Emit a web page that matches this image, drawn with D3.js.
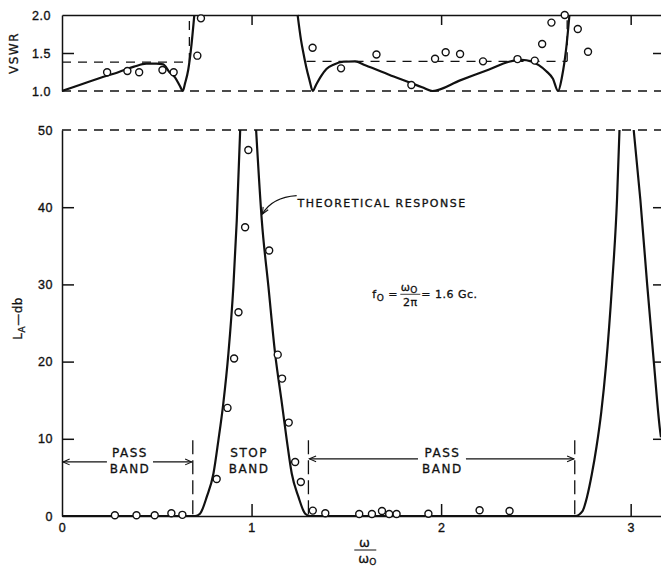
<!DOCTYPE html>
<html>
<head>
<meta charset="utf-8">
<script src="https://cdn.jsdelivr.net/npm/d3@7"></script>
<style>
body { margin: 0; background: #fff; }
svg { display: block; font-family: "DejaVu Sans", sans-serif; }
.axis path, .axis line { stroke: #111; stroke-width: 1.5; }
.axis text { font-size: 12.5px; fill: #111; letter-spacing: 0.5px; stroke: #111; stroke-width: 0.35; }
.theory { fill: none; stroke: #111; stroke-width: 2.2; }
.dash { fill: none; stroke: #111; stroke-width: 1.3; stroke-dasharray: 9,7; }
.meas { fill: #fff; stroke: #111; stroke-width: 1.4; }
.lbl { font-size: 12px; fill: #111; letter-spacing: 1.5px; stroke: #111; stroke-width: 0.3; }
.arrow { fill: none; stroke: #111; stroke-width: 1.3; }
</style>
</head>
<body>
<script>
//tick values
var freqTicks = [0, 1, 2, 3];
var lossTicks = [0, 10, 20, 30, 40, 50];
var vswrTicks = [1.0, 1.5, 2.0];

//theoretical attenuation, [w/w0, L_A db], one array per visible branch
var lossTheory = [
    [[0,0],[0.702,0],[0.728,0.3],[0.764,2.5],[0.799,5.5],[0.825,9.8],[0.851,14.6],[0.878,21.1],[0.904,29.7],[0.922,38.3],[0.94,50]],
    [[1.024,50],[1.054,38.3],[1.089,29.7],[1.124,21.1],[1.16,14.6],[1.186,9.8],[1.212,5.5],[1.247,2.5],[1.283,0.3],[1.309,0],
     [2.708,0],[2.745,0.6],[2.77,2.5],[2.795,5.4],[2.82,9],[2.845,13.5],[2.87,19.5],[2.902,30],[2.928,41],[2.941,50]],
    [[3.016,50],[3.051,41],[3.087,30],[3.122,20],[3.157,10.7],[3.16,10.2]]
];

//measured attenuation
var lossMeasured = [
    [0.279,0.1],[0.393,0.1],[0.489,0.1],[0.577,0.35],[0.635,0.15],
    [0.816,4.8],[0.873,14],[0.908,20.4],[0.931,26.4],[0.966,37.4],[0.983,47.4],
    [1.093,34.4],[1.138,20.9],[1.161,17.8],[1.196,12.1],[1.23,7.0],[1.26,4.4],[1.323,0.7],[1.389,0.35],
    [1.568,0.25],[1.635,0.25],[1.688,0.65],[1.726,0.25],[1.765,0.25],[1.933,0.3],[2.203,0.75],[2.361,0.65]
];

//theoretical VSWR
var vswrTheory = [
    [[0,1.0],[0.1,1.085],[0.2,1.17],[0.3,1.25],[0.38,1.32],[0.445,1.36],[0.498,1.36],[0.534,1.35],[0.566,1.25],[0.596,1.18],[0.622,1.066],[0.637,1.0],
     [0.649,1.1],[0.666,1.28],[0.684,1.63],[0.698,2.0]],
    [[1.243,2.0],[1.261,1.67],[1.275,1.48],[1.288,1.32],[1.305,1.15],[1.323,1.0],[1.34,1.08],[1.365,1.19],[1.395,1.29],[1.435,1.35],[1.485,1.385],
     [1.545,1.39],[1.6,1.34],[1.75,1.19],[1.9,1.05],[1.954,1.0],[2.1,1.14],[2.25,1.28],[2.358,1.385],[2.425,1.41],[2.475,1.39],[2.515,1.34],
     [2.555,1.26],[2.59,1.16],[2.617,1.0],[2.638,1.19],[2.659,1.54],[2.677,2.0]]
];

//measured VSWR
var vswrMeasured = [
    [0.238,1.246],[0.345,1.263],[0.407,1.246],[0.53,1.276],[0.589,1.246],[0.714,1.465],[0.733,1.956],
    [1.322,1.57],[1.472,1.298],[1.659,1.48],[1.843,1.079],[1.968,1.425],[2.024,1.509],[2.1,1.487],
    [2.221,1.39],[2.403,1.42],[2.494,1.4],[2.533,1.618],[2.582,1.9],[2.652,2.0],[2.721,1.816],[2.775,1.517]
];

//band edges (w/w0) and VSWR spec level
var bandEdges = [0.69, 1.3, 2.705];
var vswrLimit = [[0, 0.672, 1.38], [1.29, 2.665, 1.39]];

var width = 661, height = 567;

var svg = d3.select("body").append("svg")
    .attr("width", width)
    .attr("height", height);

var defs = svg.append("defs");
defs.append("marker")
    .attr("id", "head")
    .attr("viewBox", "-10 -6 12 12")
    .attr("markerWidth", 10).attr("markerHeight", 10)
    .attr("markerUnits", "userSpaceOnUse")
    .attr("orient", "auto-start-reverse")
    .append("path")
    .attr("d", "M-8,-3.5L0,0L-8,3.5")
    .attr("fill", "none").attr("stroke", "#111").attr("stroke-width", 1.3);

//scales
var x = d3.scaleLinear().domain([0, 3.16]).range([62, 661]);
var yL = d3.scaleLinear().domain([0, 50]).range([516, 130]);
var yV = d3.scaleLinear().domain([1, 2]).range([91, 15]);

defs.append("clipPath").attr("id", "clipL").append("rect")
    .attr("x", x(0)).attr("y", yL(50) - 2).attr("width", width - x(0)).attr("height", yL(0) - yL(50) + 4);
defs.append("clipPath").attr("id", "clipV").append("rect")
    .attr("x", x(0)).attr("y", yV(2) - 2).attr("width", width - x(0)).attr("height", yV(1) - yV(2) + 4);

// ---------- top panel: VSWR ----------
var topPanel = svg.append("g");

topPanel.append("g").attr("class", "axis")
    .attr("transform", "translate(" + x(0) + ",0)")
    .call(d3.axisLeft(yV).tickValues(vswrTicks).tickFormat(d3.format(".1f"))
        .tickSizeInner(-12).tickSizeOuter(0).tickPadding(11))
    .call(function(g) { g.selectAll(".tick line").filter(function(d) { return d != 1.5; }).remove(); });

topPanel.append("g").attr("class", "axis")
    .attr("transform", "translate(0," + yV(2) + ")")
    .call(d3.axisTop(x).tickValues(freqTicks.slice(1)).tickFormat("")
        .tickSizeInner(-10).tickSizeOuter(0));

//right side tick
topPanel.append("g").attr("class", "axis")
    .attr("transform", "translate(663,0)")
    .call(d3.axisRight(yV).tickValues([1.5]).tickFormat("").tickSizeInner(-10).tickSizeOuter(0));

topPanel.append("line").attr("class", "dash")
    .attr("x1", x(0)).attr("x2", width).attr("y1", yV(1)).attr("y2", yV(1));

vswrLimit.forEach(function(d) {
    topPanel.append("line").attr("class", "dash")
        .attr("x1", x(d[0])).attr("x2", x(d[1])).attr("y1", yV(d[2])).attr("y2", yV(d[2]));
    topPanel.append("line").attr("class", "dash")
        .attr("x1", x(d[1])).attr("x2", x(d[1])).attr("y1", yV(d[2])).attr("y2", yV(2));
});

var vLine = d3.line()
    .x(function(d) { return x(d[0]); })
    .y(function(d) { return yV(d[1]); })
    .curve(d3.curveMonotoneX);

topPanel.append("g").attr("clip-path", "url(#clipV)")
    .selectAll("path").data(vswrTheory).enter()
    .append("path").attr("class", "theory").attr("d", vLine);

topPanel.selectAll(".vm").data(vswrMeasured).enter()
    .append("circle").attr("class", "meas")
    .attr("cx", function(d) { return x(d[0]); })
    .attr("cy", function(d) { return yV(d[1]); })
    .attr("r", 3.5);

topPanel.append("text")
    .attr("transform", "translate(18," + yV(1.5) + ") rotate(-90)")
    .attr("text-anchor", "middle")
    .attr("class", "lbl").style("font-size", "12px")
    .text("VSWR");

// ---------- bottom panel: attenuation ----------
var bot = svg.append("g");

bot.append("g").attr("class", "axis")
    .attr("transform", "translate(" + x(0) + ",0)")
    .call(d3.axisLeft(yL).tickValues(lossTicks).tickFormat(d3.format("d"))
        .tickSizeInner(-12).tickSizeOuter(0).tickPadding(9))
    .call(function(g) { g.selectAll(".tick line").filter(function(d) { return d == 0 || d == 50; }).remove(); });

bot.append("g").attr("class", "axis")
    .attr("transform", "translate(0," + yL(0) + ")")
    .call(d3.axisBottom(x).tickValues(freqTicks).tickFormat(d3.format("d"))
        .tickSizeInner(-12).tickSizeOuter(0).tickPadding(7))
    .call(function(g) { g.selectAll(".tick line").filter(function(d) { return d == 0; }).remove(); });

bot.append("g").attr("class", "axis")
    .attr("transform", "translate(663,0)")
    .call(d3.axisRight(yL).tickValues(lossTicks.slice(1, 5)).tickFormat("").tickSizeInner(-10).tickSizeOuter(0));

bot.append("line").attr("class", "dash")
    .attr("x1", x(0)).attr("x2", width).attr("y1", yL(50)).attr("y2", yL(50));

bandEdges.forEach(function(b) {
    bot.append("line").attr("class", "dash").style("stroke-dasharray", "14,6")
        .attr("x1", x(b)).attr("x2", x(b)).attr("y1", yL(9.8)).attr("y2", yL(0));
});

var lLine = d3.line()
    .x(function(d) { return x(d[0]); })
    .y(function(d) { return yL(d[1]); })
    .curve(d3.curveMonotoneX);

bot.append("g").attr("clip-path", "url(#clipL)")
    .selectAll("path").data(lossTheory).enter()
    .append("path").attr("class", "theory").attr("d", lLine);

bot.selectAll(".lm").data(lossMeasured).enter()
    .append("circle").attr("class", "meas")
    .attr("cx", function(d) { return x(d[0]); })
    .attr("cy", function(d) { return yL(d[1]); })
    .attr("r", 3.5);

//pass / stop band labels
var bandLabels = [
    {w: 0.359, top: "PASS", bot: "BAND"},
    {w: 0.987, top: "STOP", bot: "BAND"},
    {w: 2.007, top: "PASS", bot: "BAND"}
];
bandLabels.forEach(function(d) {
    bot.append("text").attr("class", "lbl").attr("text-anchor", "middle")
        .attr("x", x(d.w)).attr("y", yL(7.6)).text(d.top);
    bot.append("text").attr("class", "lbl").attr("text-anchor", "middle")
        .attr("x", x(d.w)).attr("y", yL(5.6)).text(d.bot);
});

//band arrows: [from, gap start, gap end, to, level]
var bandArrows = [[0, 0.237, 0.48, 0.69, 7.0], [1.3, 1.878, 2.131, 2.705, 7.4]];
bandArrows.forEach(function(a) {
    bot.append("line").attr("class", "arrow").attr("marker-start", "url(#head)")
        .attr("x1", x(a[0]) + 1).attr("x2", x(a[1])).attr("y1", yL(a[4])).attr("y2", yL(a[4]));
    bot.append("line").attr("class", "arrow").attr("marker-end", "url(#head)")
        .attr("x1", x(a[2])).attr("x2", x(a[3]) - 1).attr("y1", yL(a[4])).attr("y2", yL(a[4]));
});

//theoretical response annotation
bot.append("path").attr("class", "arrow").attr("marker-end", "url(#head)")
    .attr("d", "M" + x(1.238) + "," + yL(41.5) + "Q" + x(1.108) + "," + yL(41.3) + " " + x(1.057) + "," + yL(39.1));
bot.append("text").attr("class", "lbl")
    .attr("x", x(1.243)).attr("y", yL(40.6) + 4)
    .attr("textLength", 169).attr("lengthAdjust", "spacing")
    .style("font-size", "11px")
    .text("THEORETICAL RESPONSE");

//f0 formula
var fx = x(1.637), fy = yL(28.2);
var f = bot.append("g").attr("class", "lbl").style("letter-spacing", "0.5px");
var ft = f.append("text").attr("x", fx).attr("y", fy).style("font-size", "11px");
ft.append("tspan").text("f");
ft.append("tspan").attr("dy", 3).style("font-size", "9px").text("O");
ft.append("tspan").attr("dy", -3).text(" =");
f.append("text").attr("x", fx + 37).attr("y", fy - 7).attr("text-anchor", "middle").style("font-size", "11px")
    .text("ω").append("tspan").attr("dy", 2).style("font-size", "9px").text("O");
f.append("line").attr("x1", fx + 28).attr("x2", fx + 48).attr("y1", fy - 4).attr("y2", fy - 4)
    .attr("stroke", "#111").attr("stroke-width", 0.8);
f.append("text").attr("x", fx + 38).attr("y", fy + 8).attr("text-anchor", "middle").style("font-size", "11px").text("2π");
f.append("text").attr("x", fx + 49).attr("y", fy).style("font-size", "11px").text("= 1.6 Gc.");

//axis titles
var yt = svg.append("text").attr("class", "lbl")
    .attr("transform", "translate(22," + yL(25.6) + ") rotate(-90)")
    .attr("text-anchor", "middle").style("font-size", "12px").style("letter-spacing", "0.5px");
yt.append("tspan").text("L");
yt.append("tspan").attr("dy", 3).style("font-size", "9px").text("A");
yt.append("tspan").attr("dy", -3).text("—db");

var xc = x(1.6);
svg.append("text").attr("class", "lbl").attr("text-anchor", "middle")
    .attr("x", xc).attr("y", 547).style("font-size", "13px").text("ω");
svg.append("line").attr("x1", xc - 11).attr("x2", xc + 11).attr("y1", 550).attr("y2", 550)
    .attr("stroke", "#111").attr("stroke-width", 1);
var xt = svg.append("text").attr("class", "lbl").attr("text-anchor", "middle")
    .attr("x", xc + 2).attr("y", 563).style("font-size", "13px").style("letter-spacing", "0");
xt.append("tspan").text("ω");
xt.append("tspan").attr("dy", 2).style("font-size", "9px").text("O");
</script>
</body>
</html>
